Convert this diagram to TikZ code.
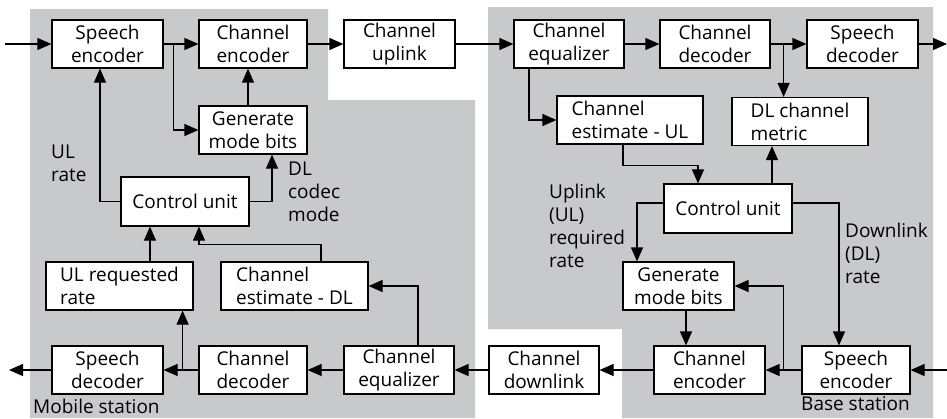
\documentclass[tikz,border=0pt]{standalone}
\usepackage{fontspec}
\setmainfont{Open Sans}
\usepackage{tikz}
\usetikzlibrary{arrows.meta,positioning}
\definecolor{stationGray}{RGB}{200,201,203}

\begin{document}
\begin{tikzpicture}[x=1pt,y=-1pt,
  blk/.style={draw, fill=white, line width=1.2pt, inner sep=0pt, minimum height=48pt, align=center, font=\fontsize{19}{23}\selectfont},
  lbl/.style={anchor=north west, inner sep=0pt, align=left, font=\fontsize{19}{23}\selectfont},
  arr/.style={-{Triangle[length=14pt,width=12pt]}, line width=1.2pt}]
\useasboundingbox (0,0) rectangle (947,418);
\fill[stationGray] (30,9) -- (328,9) -- (328,100) -- (475,100) -- (475,418) -- (30,418) -- cycle;
\fill[stationGray] (488,7) -- (933,7) -- (933,418) -- (622,418) -- (622,329) -- (488,329) -- cycle;

\node[blk, minimum width=111pt] (msSpeechEnc) at (107.5,44) {Speech\\encoder};
\node[blk, minimum width=108pt] (msChanEnc) at (253,44) {Channel\\encoder};
\node[blk, minimum width=111pt] (chanUp) at (399.5,44) {Channel\\uplink};
\node[blk, minimum width=108pt] (msGenBits) at (253,130) {Generate\\mode bits};
\node[blk, minimum width=128pt, minimum height=49pt] (msCtrl) at (185,201.5) {Control unit};
\node[blk, minimum width=147pt, align=left] (msReqRate) at (119.5,286) {UL requested\\rate};
\node[blk, minimum width=147pt, align=left] (msEstDL) at (294.5,286) {Channel\\estimate - DL};
\node[blk, minimum width=111pt] (msSpeechDec) at (107.5,370) {Speech\\decoder};
\node[blk, minimum width=108pt] (msChanDec) at (253,370) {Channel\\decoder};
\node[blk, minimum width=110pt] (msChanEq) at (399,370) {Channel\\equalizer};

\node[blk, minimum width=110pt] (bsChanEq) at (569,44) {Channel\\equalizer};
\node[blk, minimum width=110pt] (bsChanDec) at (715,44) {Channel\\decoder};
\node[blk, minimum width=111pt] (bsSpeechDec) at (862.5,44) {Speech\\decoder};
\node[blk, minimum width=146pt, align=left] (bsEstUL) at (630,120) {Channel\\estimate - UL};
\node[blk, minimum width=136pt, align=left] (bsMetric) at (800,121.5) {DL channel\\metric};
\node[blk, minimum width=128pt, minimum height=49pt] (bsCtrl) at (728,208.5) {Control unit};
\node[blk, minimum width=111pt] (bsGenBits) at (678.5,286) {Generate\\mode bits};
\node[blk, minimum width=110pt] (chanDown) at (544,370) {Channel\\downlink};
\node[blk, minimum width=111pt] (bsChanEnc) at (709.5,370) {Channel\\encoder};
\node[blk, minimum width=108pt] (bsSpeechEnc) at (856,370) {Speech\\encoder};

\node[lbl] (ulRate) at (51,145) {UL\\rate};
\node[lbl] (dlMode) at (288,162) {DL\\codec\\mode};
\node[lbl] (ulReqRate) at (549,184) {Uplink\\(UL)\\required\\rate};
\node[lbl] (dlRate) at (845,223) {Downlink\\(DL)\\rate};
\node[lbl] (msName) at (33,399) {Mobile station};
\node[lbl] (bsName) at (801,396) {Base station};

\coordinate (msIn) at (5,44);
\coordinate (msOut) at (9,370);
\coordinate (bsIn) at (947,370);
\coordinate (bsOut) at (947,44);

\draw[arr] (msIn) -- (msSpeechEnc);
\draw[arr] (msSpeechEnc) -- (msChanEnc);
\draw[arr] ([xshift=10pt]msSpeechEnc.east) |- (msGenBits);
\draw[arr] ([xshift=-5pt]msGenBits.north) -- ([xshift=-5pt]msChanEnc.south);
\draw[arr] (msChanEnc) -- (chanUp);
\draw[arr] (chanUp) -- (bsChanEq);
\draw[arr] (msCtrl) -| ([xshift=-7.5pt]msSpeechEnc.south);
\draw[arr] (msCtrl) -| ([xshift=19pt]msGenBits.south);
\draw[arr] ([xshift=30.5pt]msReqRate.north) -- ([xshift=-35pt]msCtrl.south);
\draw[arr] ([xshift=26.5pt]msEstDL.north) -- ++(0,-17) -| ([xshift=14pt]msCtrl.south);
\draw[arr] ([xshift=19pt]msChanEq.north) |- (msEstDL);
\draw[arr] (msChanEq) -- (msChanDec);
\draw[arr] (msChanDec) -- (msSpeechDec);
\draw[arr] ([xshift=19pt]msSpeechDec.east) -- ([xshift=19pt]msSpeechDec.east |- msReqRate.south);
\draw[arr] (msSpeechDec) -- (msOut);

\draw[arr] (bsChanEq) -- (bsChanDec);
\draw[arr] (bsChanDec) -- (bsSpeechDec);
\draw[arr] ([xshift=13pt]bsChanDec.east) -- ([xshift=13pt]bsChanDec.east |- bsMetric.north);
\draw[arr] (bsSpeechDec) -- (bsOut);
\draw[arr] ([xshift=-40pt]bsChanEq.south) |- (bsEstUL);
\draw[arr] ([xshift=-7pt]bsEstUL.south) -- ++(0,21) -| ([xshift=-30pt]bsCtrl.north);
\draw[arr] ([xshift=44pt]bsCtrl.north) -- ([xshift=44pt]bsCtrl.north |- bsMetric.south);
\draw[arr] ([yshift=5.5pt]bsCtrl.west) -| ([xshift=-41.5pt]bsGenBits.north);
\draw[arr] ([yshift=5.5pt]bsCtrl.east) -| ([xshift=-17pt]bsSpeechEnc.north);
\draw[arr] (bsIn) -- (bsSpeechEnc);
\draw[arr] (bsSpeechEnc) -- (bsChanEnc);
\draw[arr] ([xshift=18pt]bsChanEnc.east) |- (bsGenBits);
\draw[arr] ([xshift=7.5pt]bsGenBits.south) -- ([xshift=7.5pt]bsGenBits.south |- bsChanEnc.north);
\draw[arr] (bsChanEnc) -- (chanDown);
\draw[arr] (chanDown) -- (msChanEq);
\end{tikzpicture}
\end{document}
